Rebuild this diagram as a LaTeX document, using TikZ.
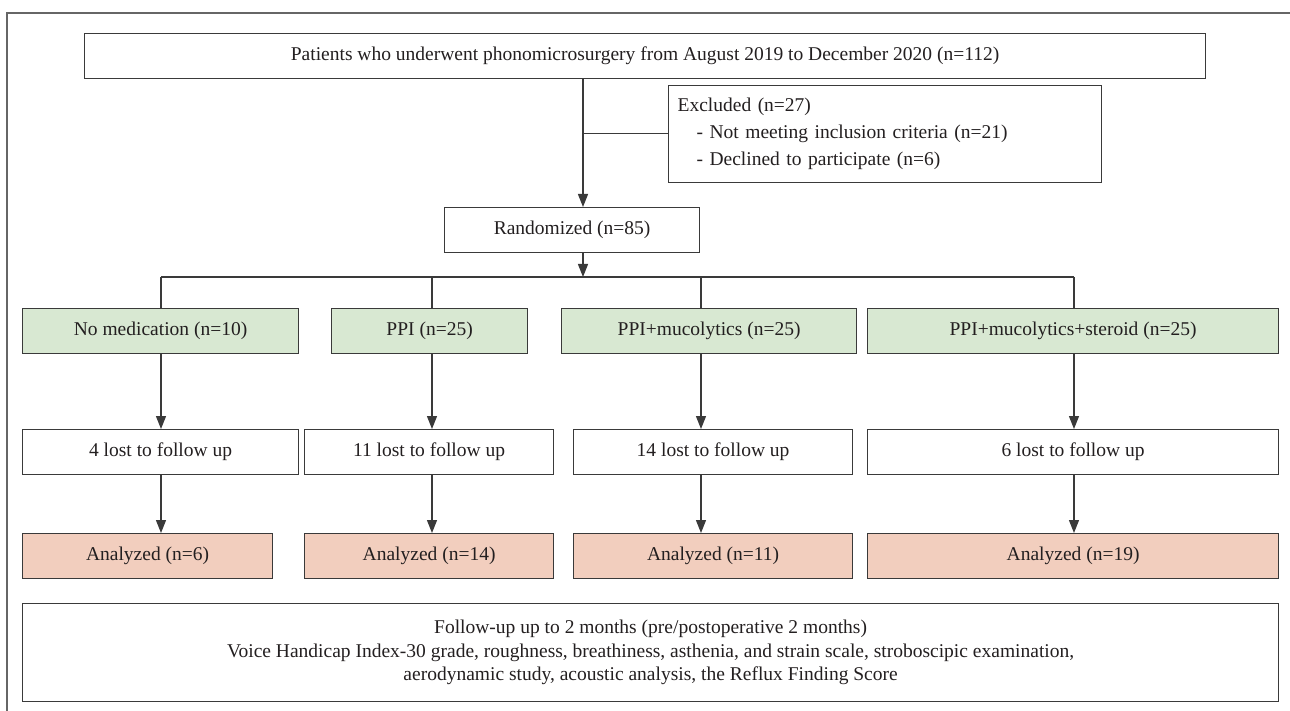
\documentclass[tikz,border=0pt]{standalone}
\usepackage{fontspec}
\setmainfont{Liberation Serif}
\usepackage{tikz}
\usetikzlibrary{arrows.meta}
\usetikzlibrary{positioning}

\definecolor{medgreen}{HTML}{D8E8D2}
\definecolor{respink}{HTML}{F2CEBE}
\definecolor{boxline}{HTML}{3A3A3A}
\definecolor{txt}{HTML}{231F20}

\begin{document}
\begin{tikzpicture}[x=1pt, y=-1pt, every node/.style={font=\fontsize{19.5}{27}\selectfont, text=txt}]
\tikzstyle{box} = [rectangle, draw=boxline, line width=1.2pt, minimum height=45pt, text centered, inner sep=0pt, anchor=north west]
\tikzstyle{treat} = [box, fill=medgreen]
\tikzstyle{result} = [box, fill=respink]
\tikzstyle{line} = [draw=boxline, line width=1.2pt]
\tikzstyle{arrow} = [line, -{Triangle[length=13pt, width=10pt]}]

\useasboundingbox (0,0) rectangle (1290,711);
\draw [draw=gray!80!black, line width=1.5pt] (1290,13) -- (7,13) -- (7,711);

% Nodes
\node (pat) [box, minimum width=1121pt] at (84,33) {Patients who underwent phonomicrosurgery from August 2019 to December 2020 (n=112)};
\node (excl) [box, align=left, text width=415pt, inner xsep=9pt, minimum height=97pt] at (668,85) {Excluded (n=27)\\\hspace*{19pt}- Not meeting inclusion criteria (n=21)\\\hspace*{19pt}- Declined to participate (n=6)};
\node (rand) [box, minimum width=255pt] at (444,207) {Randomized (n=85)};

\node (nomed) [treat, minimum width=276pt] at (22,308) {No medication (n=10)};
\node (ppi) [treat, minimum width=196pt] at (331,308) {PPI (n=25)};
\node (ppimuc) [treat, minimum width=295pt] at (561,308) {PPI+mucolytics (n=25)};
\node (ppister) [treat, minimum width=411pt] at (867,308) {PPI+mucolytics+steroid (n=25)};

\node (lost1) [box, minimum width=276pt] at (22,429) {4 lost to follow up};
\node (lost2) [box, minimum width=249pt] at (304,429) {11 lost to follow up};
\node (lost3) [box, minimum width=279pt] at (573,429) {14 lost to follow up};
\node (lost4) [box, minimum width=411pt] at (867,429) {6 lost to follow up};

\node (ana1) [result, minimum width=250pt] at (22,533) {Analyzed (n=6)};
\node (ana2) [result, minimum width=249pt] at (304,533) {Analyzed (n=14)};
\node (ana3) [result, minimum width=279pt] at (573,533) {Analyzed (n=11)};
\node (ana4) [result, minimum width=411pt] at (867,533) {Analyzed (n=19)};

\node (follow) [box, align=center, minimum width=1256pt, minimum height=98pt, font=\fontsize{19.5}{23.5}\selectfont] at (22,603) {Follow-up up to 2 months (pre/postoperative 2 months)\\Voice Handicap Index-30 grade, roughness, breathiness, asthenia, and strain scale, stroboscipic examination,\\aerodynamic study, acoustic analysis, the Reflux Finding Score};

% Arrows
\coordinate (split) at (583,133.5);
\coordinate (bus) at (583,277);
\coordinate (c1) at (161,277);
\coordinate (c2) at (432,277);
\coordinate (c3) at (701,277);
\coordinate (c4) at (1074,277);

\draw [arrow] (pat.south -| split) -- (rand.north -| split);
\draw [line] (split) -- (excl.west |- split);
\draw [arrow] (rand.south -| bus) -- (bus);
\draw [line] (c1) -- (c4);
\draw [line] (c1) -- (nomed.north -| c1);
\draw [line] (c2) -- (ppi.north -| c2);
\draw [line] (c3) -- (ppimuc.north -| c3);
\draw [line] (c4) -- (ppister.north -| c4);

\draw [arrow] (nomed.south -| c1) -- (lost1.north -| c1);
\draw [arrow] (ppi.south -| c2) -- (lost2.north -| c2);
\draw [arrow] (ppimuc.south -| c3) -- (lost3.north -| c3);
\draw [arrow] (ppister.south -| c4) -- (lost4.north -| c4);

\draw [arrow] (lost1.south -| c1) -- (ana1.north -| c1);
\draw [arrow] (lost2.south -| c2) -- (ana2.north -| c2);
\draw [arrow] (lost3.south -| c3) -- (ana3.north -| c3);
\draw [arrow] (lost4.south -| c4) -- (ana4.north -| c4);

\end{tikzpicture}
\end{document}
